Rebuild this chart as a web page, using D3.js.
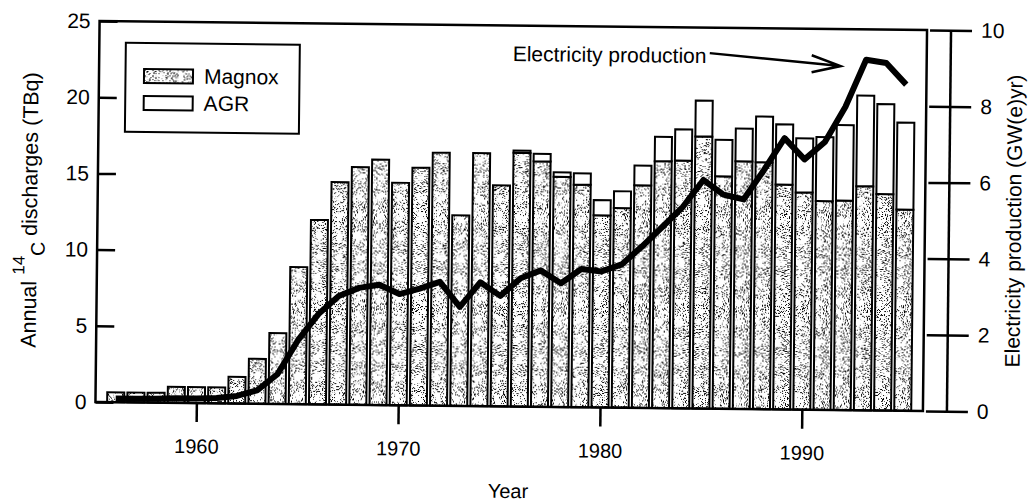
<!DOCTYPE html>
<html>
<head>
<meta charset="utf-8">
<script src="https://cdn.jsdelivr.net/npm/d3@7"></script>
<style>
body { margin: 0; background: #fff; }
svg { display: block; font-family: "Liberation Sans", Arial, Helvetica, sans-serif; }
</style>
</head>
<body>
<script>
// values
var years = [1956, 1957, 1958, 1959, 1960, 1961, 1962, 1963, 1964, 1965,
             1966, 1967, 1968, 1969, 1970, 1971, 1972, 1973, 1974, 1975,
             1976, 1977, 1978, 1979, 1980, 1981, 1982, 1983, 1984, 1985,
             1986, 1987, 1988, 1989, 1990, 1991, 1992, 1993, 1994, 1995];

// TBq per year
var magnox = [0.65, 0.65, 0.65, 1.05, 1.05, 1.05, 1.75, 2.95, 4.65, 9.0,
              12.1, 14.6, 15.6, 16.1, 14.6, 15.6, 16.6, 12.5, 16.6, 14.5,
              16.65, 16.1, 15.1, 14.6, 12.6, 13.1, 14.6, 16.2, 16.25, 17.85,
              15.25, 16.25, 16.2, 14.75, 14.25, 13.7, 13.75, 14.7, 14.2, 13.2];

var agr = [0, 0, 0, 0, 0, 0, 0, 0, 0, 0,
           0, 0, 0, 0, 0, 0, 0, 0, 0, 0,
           0.15, 0.5, 0.3, 0.75, 1.0, 1.1, 1.3, 1.6, 2.05, 2.35,
           2.4, 2.15, 3.0, 3.95, 3.55, 4.2, 4.95, 5.95, 5.9, 5.7];

// GW(e)yr
var electricity = [0.1, 0.1, 0.1, 0.12, 0.12, 0.14, 0.2, 0.35, 0.78, 1.68,
                   2.37, 2.85, 3.07, 3.16, 2.92, 3.07, 3.25, 2.6, 3.25, 2.9,
                   3.37, 3.58, 3.25, 3.63, 3.57, 3.76, 4.24, 4.76, 5.29, 6.0,
                   5.62, 5.5, 6.28, 7.12, 6.57, 7.03, 7.96, 9.2, 9.12, 8.56];

var leftTicks = [0, 5, 10, 15, 20, 25];
var rightTicks = [0, 2, 4, 6, 8, 10];
var yearTicks = [1960, 1970, 1980, 1990];

function init(){
    var width = 1030;
    var height = 504;

    var svg = d3.select("body")
                .append("svg")
                .attr("width", width)
                .attr("height", height);

    // speckled fill for the Magnox bars
    var defs = svg.append("defs");
    var grain = defs.append("filter")
        .attr("id", "grain")
        .attr("filterUnits", "userSpaceOnUse")
        .attr("x", 0).attr("y", 0)
        .attr("width", width).attr("height", height);
    grain.append("feTurbulence")
        .attr("type", "fractalNoise")
        .attr("baseFrequency", 0.95)
        .attr("numOctaves", 2)
        .attr("seed", 4);
    grain.append("feColorMatrix")
        .attr("type", "matrix")
        .attr("values", "0 0 0 0 0  0 0 0 0 0  0 0 0 0 0  16 0 0 0 -9.3");

    var pat = defs.append("pattern")
        .attr("id", "stipple")
        .attr("patternUnits", "userSpaceOnUse")
        .attr("width", width).attr("height", height);
    pat.append("rect").attr("width", width).attr("height", height).attr("fill", "#fff");
    pat.append("rect").attr("width", width).attr("height", height).attr("filter", "url(#grain)");

    // the scan is tilted a little
    var g = svg.append("g").attr("transform", "rotate(0.62 512 216)");

    var x = d3.scaleLinear().domain([1955, 1996]).range([97.5, 925]);
    var yL = d3.scaleLinear().domain([0, 25]).range([406.5, 25.5]);
    var yR = d3.scaleLinear().domain([0, 10]).range([406.5, 25.5]);
    var barW = 17;

    var rows = years.map(function(yr, i) {
        return { year: yr, magnox: magnox[i], agr: agr[i], elec: electricity[i] };
    });

    var bars = g.selectAll(".bar")
        .data(rows)
        .enter()
        .append("g")
        .attr("class", "bar");

    bars.append("rect")
        .attr("x", function(d) { return x(d.year) - barW / 2; })
        .attr("y", function(d) { return yL(d.magnox); })
        .attr("width", barW)
        .attr("height", function(d) { return yL(0) - yL(d.magnox); })
        .attr("fill", "url(#stipple)")
        .attr("stroke", "#000")
        .attr("stroke-width", 2);

    bars.filter(function(d) { return d.agr > 0; })
        .append("rect")
        .attr("x", function(d) { return x(d.year) - barW / 2; })
        .attr("y", function(d) { return yL(d.magnox + d.agr); })
        .attr("width", barW)
        .attr("height", function(d) { return yL(d.magnox) - yL(d.magnox + d.agr); })
        .attr("fill", "#fff")
        .attr("stroke", "#000")
        .attr("stroke-width", 2);

    // frame
    g.append("rect")
        .attr("x", x(1955)).attr("y", yL(25))
        .attr("width", x(1996) - x(1955))
        .attr("height", yL(0) - yL(25))
        .attr("fill", "none")
        .attr("stroke", "#000")
        .attr("stroke-width", 2.5);

    var line = d3.line()
        .x(function(d) { return x(d.year); })
        .y(function(d) { return yR(d.elec); });

    g.append("path")
        .datum(rows)
        .attr("d", line)
        .attr("fill", "none")
        .attr("stroke", "#000")
        .attr("stroke-width", 6)
        .attr("stroke-linejoin", "round");

    // axes
    var left = g.append("g")
        .attr("transform", "translate(" + x(1955) + ",0)")
        .call(d3.axisLeft(yL).tickValues(leftTicks).tickSizeInner(-18).tickSizeOuter(0).tickPadding(9));

    var bottom = g.append("g")
        .attr("transform", "translate(0," + yL(0) + ")")
        .call(d3.axisBottom(x).tickValues(yearTicks).tickFormat(d3.format("d")).tickSize(19).tickPadding(17));

    var right = g.append("g")
        .attr("transform", "translate(928,0)")
        .call(d3.axisRight(yR).tickValues(rightTicks).tickSize(42).tickPadding(9));

    [left, bottom, right].forEach(function(ax) {
        ax.select(".domain").remove();
        ax.attr("font-size", 21).attr("font-family", null);
        ax.selectAll(".tick line").attr("stroke", "#000").attr("stroke-width", 2.5);
        ax.selectAll(".tick text").attr("fill", "#000");
    });
    bottom.attr("font-size", 20);

    g.append("line")
        .attr("x1", 949).attr("x2", 949)
        .attr("y1", yR(0)).attr("y2", yR(10))
        .attr("stroke", "#000")
        .attr("stroke-width", 2.5);

    // axis titles
    g.append("text")
        .attr("x", 511).attr("y", 498)
        .attr("text-anchor", "middle")
        .attr("font-size", 20)
        .text("Year");

    var lt = g.append("text")
        .attr("transform", "translate(37,353) rotate(-90)")
        .attr("font-size", 21.5);
    lt.append("tspan").text("Annual ");
    lt.append("tspan").attr("font-size", 17).attr("dy", -12).text("14");
    lt.append("tspan").attr("font-size", 19.5).attr("dy", 20).text("C");
    lt.append("tspan").attr("dy", -8).text(" discharges (TBq)");

    g.append("text")
        .attr("transform", "translate(1021,362) rotate(-90)")
        .attr("font-size", 21)
        .text("Electricity production (GW(e)yr)");

    // annotation
    g.append("text")
        .attr("x", 511).attr("y", 61)
        .attr("font-size", 21)
        .text("Electricity production");

    g.append("path")
        .attr("d", "M708,51 L839,62.5 M810,52 L839,62.5 L810,69")
        .attr("fill", "none")
        .attr("stroke", "#000")
        .attr("stroke-width", 2.5);

    // legend
    var legend = g.append("g");
    legend.append("rect")
        .attr("x", 124).attr("y", 47)
        .attr("width", 174).attr("height", 89)
        .attr("fill", "#fff")
        .attr("stroke", "#000")
        .attr("stroke-width", 2);

    var items = [{ name: "Magnox", fill: "url(#stipple)" }, { name: "AGR", fill: "#fff" }];
    items.forEach(function(it, i) {
        legend.append("rect")
            .attr("x", 142.5).attr("y", 73 + i * 27)
            .attr("width", 49).attr("height", 14)
            .attr("fill", it.fill)
            .attr("stroke", "#000")
            .attr("stroke-width", 2);
        legend.append("text")
            .attr("x", 202.5).attr("y", 87 + i * 27)
            .attr("font-size", 21)
            .text(it.name);
    });
}

window.onload = init;
</script>
</body>
</html>
